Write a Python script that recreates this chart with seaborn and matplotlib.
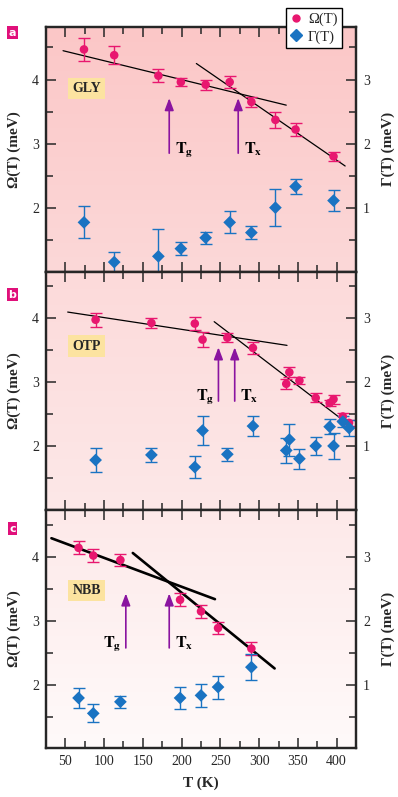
import matplotlib
matplotlib.use("Agg")
import matplotlib.pyplot as plt
from matplotlib.lines import Line2D
import numpy as np
import seaborn as sns

# ---- panel a : GLY ----
gly_T = [74, 113, 170, 199, 231, 262, 290, 321, 347, 396]
gly_om = [4.47, 4.38, 4.06, 3.96, 3.92, 3.96, 3.65, 3.37, 3.22, 2.80]
gly_om_err = [0.18, 0.14, 0.10, 0.06, 0.08, 0.10, 0.08, 0.12, 0.10, 0.07]
gly_ga = [0.77, 0.15, 0.24, 0.36, 0.53, 0.77, 0.61, 1.00, 1.33, 1.11]
gly_ga_err = [0.25, 0.16, 0.43, 0.10, 0.09, 0.17, 0.10, 0.29, 0.12, 0.16]
gly_fit1 = [(47, 4.45), (335, 3.60)]
gly_fit2 = [(219, 4.25), (411, 2.65)]
gly_tg, gly_tx = 184, 273

# ---- panel b : OTP ----
otp_T = [89, 161, 217, 227, 259, 292, 335, 339, 352, 373, 391, 396, 408, 416]
otp_om = [3.97, 3.92, 3.91, 3.66, 3.69, 3.53, 2.97, 3.15, 3.02, 2.75, 2.67, 2.73, 2.46, 2.36]
otp_om_err = [0.11, 0.075, 0.10, 0.12, 0.07, 0.09, 0.08, 0.08, 0.05, 0.07, 0.05, 0.07, 0.05, 0.05]
otp_ga = [0.78, 0.86, 0.67, 1.24, 0.87, 1.31, 0.93, 1.10, 0.80, 1.00, 1.30, 1.00, 1.38, 1.28]
otp_ga_err = [0.19, 0.11, 0.17, 0.23, 0.10, 0.15, 0.19, 0.25, 0.16, 0.14, 0.12, 0.20, 0.08, 0.12]
otp_fit1 = [(53, 4.09), (336, 3.57)]
otp_fit2 = [(242, 3.94), (416, 2.33)]
otp_tg, otp_tx = 247.5, 268.5

# ---- panel c : NBB ----
nbb_T = [67, 86, 121, 198, 225, 247, 290]
nbb_om = [4.14, 4.02, 3.95, 3.33, 3.15, 2.89, 2.57]
nbb_om_err = [0.10, 0.10, 0.09, 0.10, 0.10, 0.10, 0.10]
nbb_ga = [0.80, 0.56, 0.74, 0.80, 0.84, 0.97, 1.28]
nbb_ga_err = [0.16, 0.14, 0.09, 0.17, 0.18, 0.18, 0.20]
nbb_fit1 = [(32, 4.29), (243, 3.34)]
nbb_fit2 = [(137, 4.06), (320, 2.26)]
nbb_tg, nbb_tx = 128, 184

PINK = '#e8176f'
BLUE = '#1a73c2'
PURPLE = '#8a14a0'

sns.set_style('ticks')
plt.rcParams['font.family'] = ['Liberation Serif', 'DejaVu Serif']
plt.rcParams['mathtext.fontset'] = 'stix'

fig = plt.figure(figsize=(3.98, 7.97), dpi=100)

W, H = 398.0, 797.0
left, right = 46 / W, 356 / W
panels = [
    dict(name='GLY', tag='a', T=gly_T, om=gly_om, om_err=gly_om_err, ga=gly_ga, ga_err=gly_ga_err,
         fit1=gly_fit1, fit2=gly_fit2, tg=gly_tg, tx=gly_tx, arr=(2.85, 3.71), tg_side='right',
         top=27, bot=271.7, ylim=(1.0, 4.82), lw=0.9, c_top='#fbc7c7', c_bot='#fcd8d8', box_y=3.86),
    dict(name='OTP', tag='b', T=otp_T, om=otp_om, om_err=otp_om_err, ga=otp_ga, ga_err=otp_ga_err,
         fit1=otp_fit1, fit2=otp_fit2, tg=otp_tg, tx=otp_tx, arr=(2.70, 3.54), tg_side='left',
         top=271.7, bot=510, ylim=(1.0, 4.72), lw=0.9, c_top='#fcdada', c_bot='#fde8e8', box_y=3.56),
    dict(name='NBB', tag='c', T=nbb_T, om=nbb_om, om_err=nbb_om_err, ga=nbb_ga, ga_err=nbb_ga_err,
         fit1=nbb_fit1, fit2=nbb_fit2, tg=nbb_tg, tx=nbb_tx, arr=(2.58, 3.43), tg_side='left',
         top=510, bot=748, ylim=(1.02, 4.73), lw=1.9, c_top='#fde9e9', c_bot='#fffafa', box_y=3.48),
]

tag_y = [32.5, 294.5, 528.5]

for i, p in enumerate(panels):
    ax = fig.add_axes([left, 1 - p['bot'] / H, right - left, (p['bot'] - p['top']) / H])

    # vertical pink gradient background
    grad = np.linspace(0, 1, 256).reshape(-1, 1)
    cmap = matplotlib.colors.LinearSegmentedColormap.from_list('bg', [p['c_bot'], p['c_top']])
    ax.imshow(grad, cmap=cmap, origin='lower', aspect='auto', extent=(0, 1, 0, 1),
              transform=ax.transAxes, zorder=0)
    ax.set_xlim(25, 425)
    ax.set_ylim(*p['ylim'])

    # fit lines
    for f in (p['fit1'], p['fit2']):
        ax.plot([f[0][0], f[1][0]], [f[0][1], f[1][1]], color='black', lw=p['lw'], zorder=2)

    # Omega data
    ax.errorbar(p['T'], p['om'], yerr=p['om_err'], fmt='none', ecolor=PINK, elinewidth=1.0,
                capsize=4, capthick=1.0, zorder=3)
    sns.scatterplot(x=p['T'], y=p['om'], marker='o', color=PINK, s=38, edgecolor='none', ax=ax, zorder=4)

    # Gamma data (right axis is Omega - 1)
    ga_shift = [g + 1 for g in p['ga']]
    ax.errorbar(p['T'], ga_shift, yerr=p['ga_err'], fmt='none', ecolor=BLUE, elinewidth=1.0,
                capsize=4, capthick=1.0, zorder=3)
    sns.scatterplot(x=p['T'], y=ga_shift, marker='D', color=BLUE, s=42, edgecolor='none', ax=ax, zorder=4)

    # arrows for Tg and Tx
    y0, y1 = p['arr']
    for tval, lab, side in ((p['tg'], r'$\mathbf{T_g}$', p['tg_side']), (p['tx'], r'$\mathbf{T_x}$', 'right')):
        ax.annotate('', xy=(tval, y1), xytext=(tval, y0),
                    arrowprops=dict(arrowstyle='-|>,head_width=0.3,head_length=0.8', color=PURPLE,
                                    lw=1.2, mutation_scale=9, shrinkA=0, shrinkB=0), zorder=5)
        dx = 4 if side == 'right' else -3
        ax.annotate(lab, xy=(tval, y0), xytext=(dx, 0), textcoords='offset points',
                    ha='left' if side == 'right' else 'right', va='baseline', fontsize=11.5, color='black')

    # sample name box
    ax.text(77.5, p['box_y'], p['name'], ha='center', va='center', fontsize=10, fontweight='bold',
            bbox=dict(boxstyle='square,pad=0.3', facecolor='#fce3a0', edgecolor='none'), zorder=5)

    # ticks
    ax.set_xticks(np.arange(50, 401, 50))
    ax.set_xticks(np.arange(25, 426, 25), minor=True)
    ax.set_yticks([2, 3, 4])
    ax.set_yticks([1.5, 2.5, 3.5, 4.5], minor=True)
    ax.tick_params(which='both', direction='in', top=True, right=False, labelsize=10, width=1.1)
    ax.tick_params(which='major', length=7.5, pad=5)
    ax.tick_params(which='minor', length=5)
    if i < 2:
        ax.set_xticklabels([])
    else:
        ax.set_xlabel('T (K)', fontsize=11, fontweight='bold', labelpad=6)
    ax.set_ylabel('Ω(T) (meV)', fontsize=11, fontweight='bold', labelpad=8)
    for s in ax.spines.values():
        s.set_linewidth(1.6)
        s.set_visible(True)
        s.set_zorder(6)

    ax2 = ax.twinx()
    ax2.set_ylim(p['ylim'][0] - 1, p['ylim'][1] - 1)
    ax2.set_yticks([1, 2, 3])
    ax2.set_yticks([0.5, 1.5, 2.5, 3.5], minor=True)
    ax2.tick_params(which='both', direction='in', labelsize=10, width=1.1)
    ax2.tick_params(which='major', length=7.5, pad=5)
    ax2.tick_params(which='minor', length=5)
    ax2.set_ylabel('Γ(T) (meV)', fontsize=11, fontweight='bold', labelpad=8)
    for s in ax2.spines.values():
        s.set_linewidth(1.6)

    # panel tag
    fig.text(12.5 / W, 1 - tag_y[i] / H, p['tag'], ha='center', va='center', fontsize=8,
             fontweight='bold', color='white', family='DejaVu Sans',
             bbox=dict(boxstyle='square,pad=0.15', facecolor='#e0107a', edgecolor='none'))

handles = [Line2D([], [], marker='o', color=PINK, ls='none', markersize=5),
           Line2D([], [], marker='D', color=BLUE, ls='none', markersize=6)]
fig.legend(handles, ['Ω(T)', 'Γ(T)'], loc='upper left', bbox_to_anchor=(286 / W, 1 - 8 / H),
           borderaxespad=0, frameon=True, fancybox=False, edgecolor='black', framealpha=1,
           fontsize=10.5, handletextpad=0.4, handlelength=0.8, borderpad=0.3, labelspacing=0.3)

fig.savefig('out.png', dpi=100)
